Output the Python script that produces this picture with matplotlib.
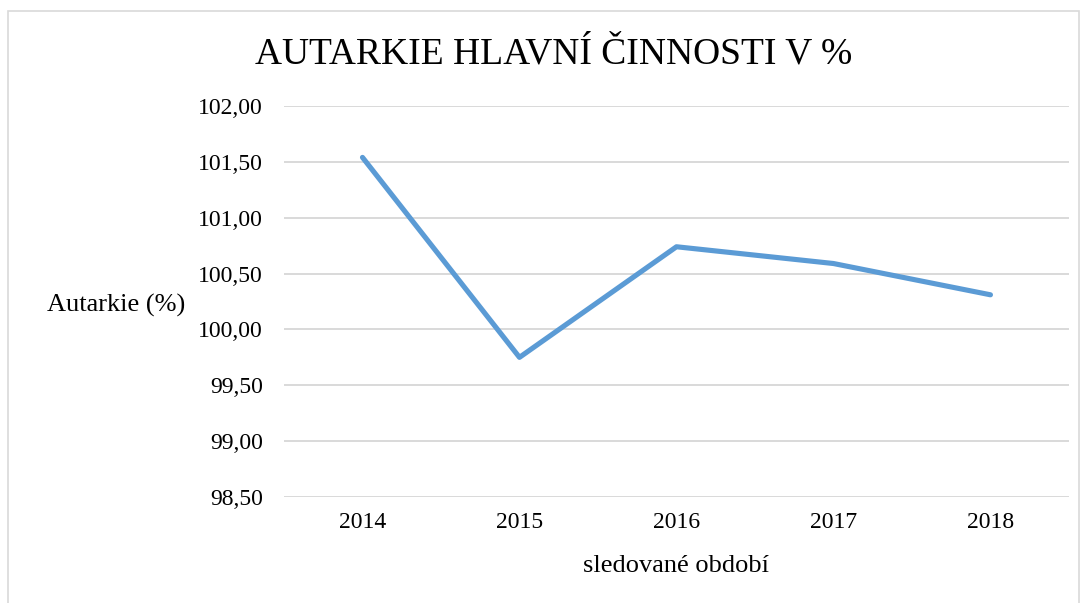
import matplotlib
matplotlib.use('Agg')
import matplotlib.pyplot as plt
from matplotlib.patches import Rectangle
from matplotlib.ticker import FuncFormatter

# Data
years = ['2014', '2015', '2016', '2017', '2018']
autarkie = [101.54, 99.75, 100.74, 100.59, 100.31]
y_ticks = [98.5, 99.0, 99.5, 100.0, 100.5, 101.0, 101.5, 102.0]

plt.rcParams['font.family'] = ['Liberation Serif', 'DejaVu Serif']

fig = plt.figure(figsize=(10.86, 6.03), dpi=100)
ax = fig.add_axes([0.2615, 0.1758, 0.7228, 0.6484])

x = range(len(years))
ax.plot(x, autarkie, color='#5B9BD5', linewidth=3.7, solid_capstyle='round',
        solid_joinstyle='round', zorder=3)

ax.set_xlim(-0.5, len(years) - 0.5)
ax.set_ylim(98.5, 102.0)
ax.set_yticks(y_ticks)
ax.yaxis.set_major_formatter(FuncFormatter(lambda v, p: f'{v:.2f}'.replace('.', ',')))
ax.set_xticks(list(x))
ax.set_xticklabels(years)

ax.grid(axis='y', color='#D9D9D9', linewidth=1.4)
ax.set_axisbelow(True)
for s in ax.spines.values():
    s.set_visible(False)
ax.tick_params(axis='both', length=0, labelsize=17, colors='#000000')
ax.tick_params(axis='y', pad=15)
ax.tick_params(axis='x', pad=11)

ax.set_xlabel('sledované období', fontsize=19, labelpad=16)
fig.text(47 / 1086, 1 - 305 / 603, 'Autarkie (%)', fontsize=19,
         ha='left', va='center')

fig.text(554 / 1086, 1 - 54 / 603, 'AUTARKIE HLAVNÍ ČINNOSTI V %', fontsize=27,
         ha='center', va='center')

# chart border
fig.patches.append(Rectangle((8 / 1086, -0.01), 1071 / 1086, 1 - 11 / 603 + 0.01,
                             transform=fig.transFigure, fill=False,
                             edgecolor='#D9D9D9', linewidth=1.2))

fig.savefig('out.png', dpi=100)
